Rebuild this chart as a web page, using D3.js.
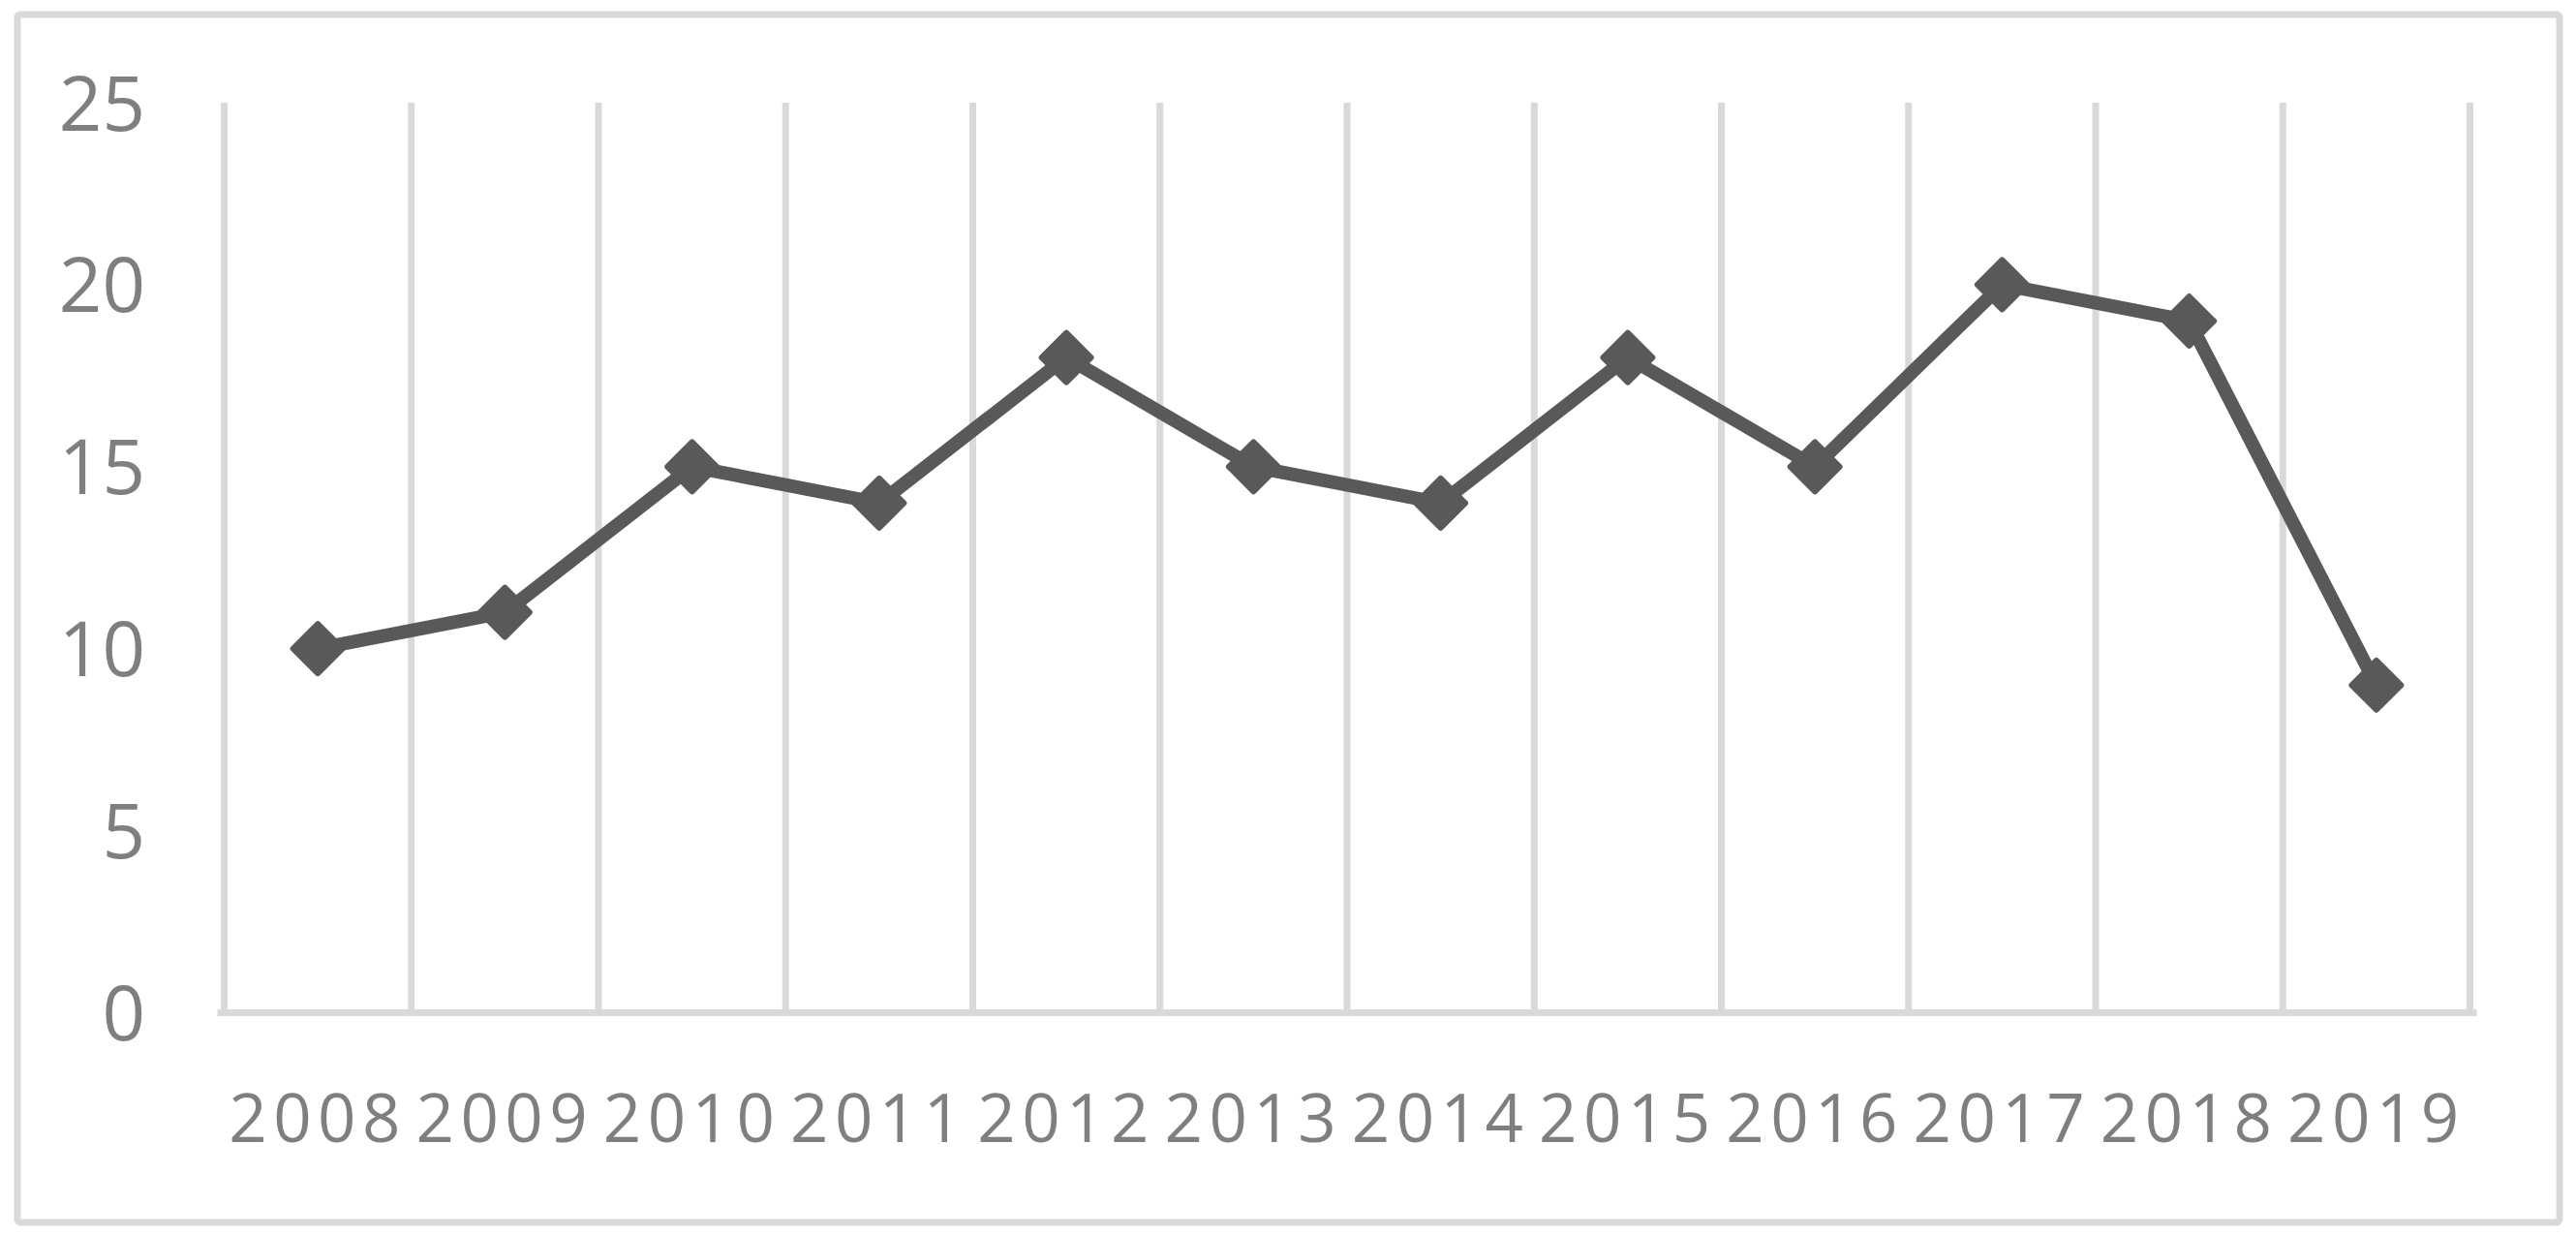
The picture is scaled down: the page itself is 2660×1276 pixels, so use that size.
<!DOCTYPE html>
<html>
<head>
<meta charset="utf-8">
<script src="https://cdn.jsdelivr.net/npm/d3@7"></script>
<style>
  html, body { margin: 0; padding: 0; background: #ffffff; }
  svg { display: block; }
</style>
</head>
<body>
<script>
const categories = ["2008","2009","2010","2011","2012","2013","2014","2015","2016","2017","2018","2019"];
const values = [10, 11, 15, 14, 18, 15, 14, 18, 15, 20, 19, 9];
const yTicks = [0, 5, 10, 15, 20, 25];

const W = 2660, H = 1276;
const plot = { left: 231.5, right: 2550.5, top: 106, bottom: 1045.5 };
const gridColor = "#d9d9d9";
const textColor = "#7f7f7f";
const lineColor = "#595959";

const svg = d3.select("body").append("svg")
  .attr("width", W).attr("height", H);

// outer chart border
svg.append("rect")
  .attr("x", 18).attr("y", 15)
  .attr("width", 2625).attr("height", 1247)
  .attr("rx", 3)
  .attr("fill", "#ffffff")
  .attr("stroke", gridColor)
  .attr("stroke-width", 7);

const x = d3.scaleBand().domain(categories).range([plot.left, plot.right]).padding(0);
const y = d3.scaleLinear().domain([0, 25]).range([plot.bottom, plot.top]);

// vertical gridlines at category boundaries
const boundaries = categories.map(c => x(c)).concat([x(categories[categories.length - 1]) + x.bandwidth()]);
svg.append("g").selectAll("line")
  .data(boundaries)
  .join("line")
  .attr("x1", d => d).attr("x2", d => d)
  .attr("y1", y(25)).attr("y2", y(0))
  .attr("stroke", gridColor)
  .attr("stroke-width", 7);

// horizontal axis line
svg.append("line")
  .attr("x1", plot.left - 3.5).attr("x2", plot.right + 3.5)
  .attr("y1", y(0)).attr("y2", y(0))
  .attr("stroke", gridColor)
  .attr("stroke-width", 7)
  .attr("stroke-linecap", "square");

// y axis labels
const yAxis = svg.append("g")
  .attr("transform", `translate(150,0)`)
  .call(d3.axisLeft(y).tickValues(yTicks).tickSize(0).tickPadding(0));
yAxis.select(".domain").remove();
yAxis.selectAll("text")
  .attr("x", 0)
  .attr("dy", "0.36em")
  .attr("fill", textColor)
  .style("font-family", "'Open Sans', sans-serif")
  .style("font-size", "78px")
  .attr("text-anchor", "end");

// x axis labels
const xAxis = svg.append("g")
  .attr("transform", `translate(0,${y(0)})`)
  .call(d3.axisBottom(x).tickSize(0).tickPadding(0));
xAxis.select(".domain").remove();
xAxis.selectAll("text")
  .attr("y", 133.5)
  .attr("dy", "0")
  .attr("fill", textColor)
  .style("font-family", "'Open Sans', sans-serif")
  .style("font-size", "69px")
  .style("letter-spacing", "6.5px");

// line series
const cx = d => x(d.cat) + x.bandwidth() / 2;
const data = categories.map((c, i) => ({ cat: c, val: values[i] }));

svg.append("path")
  .datum(data)
  .attr("fill", "none")
  .attr("stroke", lineColor)
  .attr("stroke-width", 14)
  .attr("stroke-linejoin", "round")
  .attr("d", d3.line().x(cx).y(d => y(d.val)));

// diamond markers
const s = 36;
svg.append("g").selectAll("rect")
  .data(data)
  .join("rect")
  .attr("x", -s / 2).attr("y", -s / 2)
  .attr("width", s).attr("height", s)
  .attr("transform", d => `translate(${cx(d)},${y(d.val)}) rotate(45)`)
  .attr("fill", lineColor)
  .attr("stroke", lineColor)
  .attr("stroke-width", 6)
  .attr("stroke-linejoin", "round");
</script>
</body>
</html>
